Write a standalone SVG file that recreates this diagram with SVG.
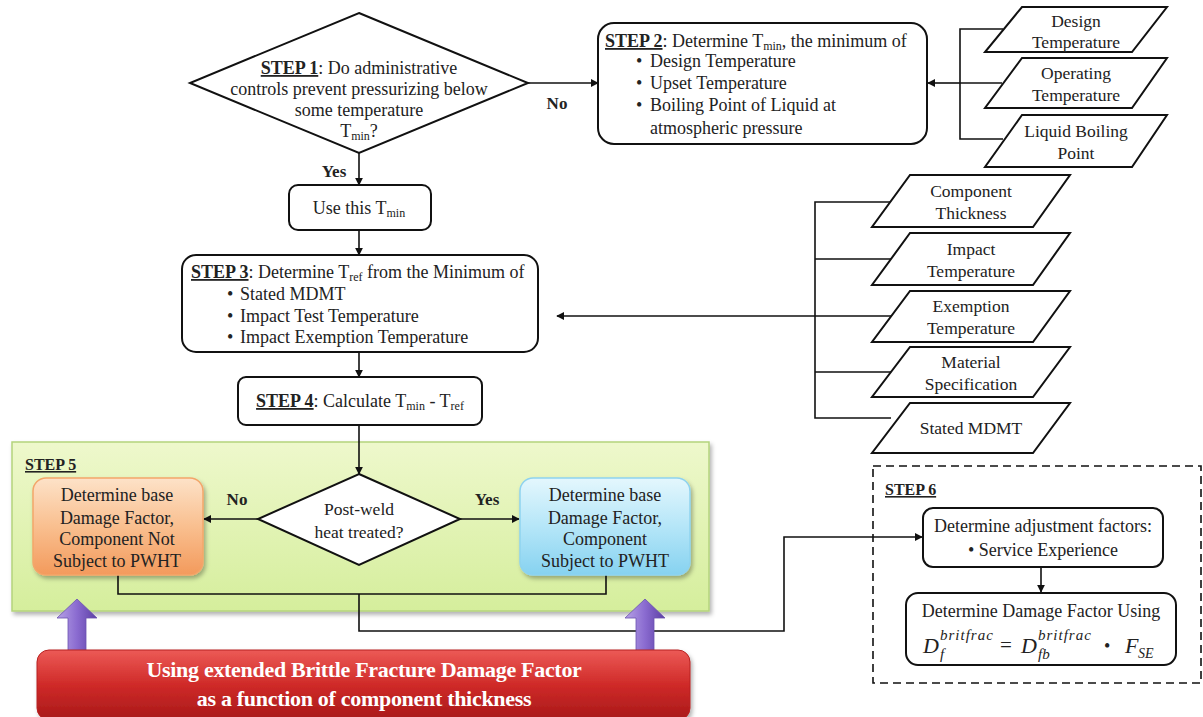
<svg xmlns="http://www.w3.org/2000/svg" width="1203" height="717" viewBox="0 0 1203 717">
<defs>
<style>
.t{font-family:"Liberation Serif","Times New Roman",serif;font-size:18px;fill:#222}
.p{font-size:17.5px}
.c{text-anchor:middle}
.b{font-weight:bold}
.u{text-decoration:underline}
.sub{font-size:12px}
.box{fill:#fff;stroke:#111;stroke-width:2}
.ln{fill:none;stroke:#111;stroke-width:1.6}
.lnA{fill:none;stroke:#111;stroke-width:1.6;marker-end:url(#ah)}
.math{font-family:"Liberation Serif","DejaVu Serif",serif;font-style:italic;fill:#222}
</style>
<marker id="ah" viewBox="0 0 10 10" refX="9" refY="5" markerWidth="8" markerHeight="8" markerUnits="userSpaceOnUse" orient="auto">
<path d="M0,0 L10,5 L0,10 z" fill="#111"/>
</marker>
<linearGradient id="gGreen" x1="0" y1="0" x2="0" y2="1"><stop offset="0" stop-color="#eef8cc"/><stop offset="1" stop-color="#d5ee9c"/></linearGradient>
<linearGradient id="gOrange" x1="0" y1="0" x2="0" y2="1"><stop offset="0" stop-color="#fde2c8"/><stop offset="0.5" stop-color="#f9bf8f"/><stop offset="1" stop-color="#f39a5c"/></linearGradient>
<linearGradient id="gBlue" x1="0" y1="0" x2="0" y2="1"><stop offset="0" stop-color="#e4f7fd"/><stop offset="0.5" stop-color="#b5e6f8"/><stop offset="1" stop-color="#86d2f0"/></linearGradient>
<linearGradient id="gRed" x1="0" y1="0" x2="0" y2="1"><stop offset="0" stop-color="#ec5a56"/><stop offset="0.5" stop-color="#cf2a28"/><stop offset="1" stop-color="#a8191a"/></linearGradient>
<linearGradient id="gPurple" x1="0" y1="0" x2="1" y2="0"><stop offset="0" stop-color="#b7a2e6"/><stop offset="0.5" stop-color="#8a6bd0"/><stop offset="1" stop-color="#5c3fa4"/></linearGradient>
<filter id="sh" x="-5%" y="-5%" width="110%" height="120%"><feDropShadow dx="2" dy="3" stdDeviation="2" flood-color="#000" flood-opacity="0.3"/></filter>
</defs>
<rect width="1203" height="717" fill="#fff"/>

<g id="step5-container">
<rect x="12" y="442" width="697" height="169" fill="url(#gGreen)" stroke="#b4d47c" stroke-width="1.5" filter="url(#sh)"/>
<text x="25" y="470" class="t b u" style="font-size:16px">STEP 5</text>
</g>

<g id="step6-container">
<rect x="873" y="466" width="328" height="217" fill="none" stroke="#111" stroke-width="1.6" stroke-dasharray="8,5"/>
<text x="885" y="495" class="t b u" style="font-size:16px">STEP 6</text>
</g>

<g id="connectors">
<path class="lnA" d="M528,83 H598"/>
<path class="lnA" d="M359,153 V185"/>
<path class="lnA" d="M359,230 V255"/>
<path class="lnA" d="M359,352 V377"/>
<path class="lnA" d="M359,425 V474"/>
<path class="lnA" d="M960,83 H928"/>
<path class="ln" d="M1003,29 H960 V139 H1003"/>
<path class="ln" d="M960,83 H1002"/>
<path class="lnA" d="M815,316 H557"/>
<path class="ln" d="M891,202 H815 V418 H891"/>
<path class="ln" d="M815,259 H891 M815,316 H891 M815,372 H891"/>
<path class="lnA" d="M258,519 H204"/>
<path class="lnA" d="M460,519 H519"/>
<path class="ln" d="M118,575 V594 H606 V575"/>
<path class="lnA" d="M359,594 V631 H784 V537 H922"/>
<path class="lnA" d="M1041,567 V592"/>
<text x="557" y="109" class="t b c" style="font-size:17px">No</text>
<text x="334" y="177" class="t b c" style="font-size:17px">Yes</text>
<text x="237" y="505" class="t b c" style="font-size:17px">No</text>
<text x="487" y="505" class="t b c" style="font-size:17px">Yes</text>
</g>

<g id="step1">
<polygon points="359,13 528,83 359,153 190,83" class="box"/>
<text x="359" y="74" class="t c"><tspan class="b u">STEP 1</tspan>: Do administrative</text>
<text x="359" y="95" class="t c">controls prevent pressurizing  below</text>
<text x="359" y="116" class="t c">some temperature</text>
<text x="359" y="137" class="t c">T<tspan class="sub" dy="3">min</tspan><tspan dy="-3">?</tspan></text>
</g>

<g id="step2">
<rect x="598" y="23" width="329" height="121" rx="16" class="box"/>
<text x="605" y="47" class="t"><tspan class="b u">STEP 2</tspan>: Determine  T<tspan class="sub" dy="3">min</tspan><tspan dy="-3">, the minimum  of</tspan></text>
<text x="636" y="67" class="t">•</text><text x="650" y="67" class="t">Design  Temperature</text>
<text x="636" y="89" class="t">•</text><text x="650" y="89" class="t">Upset Temperature</text>
<text x="636" y="111" class="t">•</text><text x="650" y="111" class="t">Boiling  Point of Liquid at</text>
<text x="650" y="134" class="t">atmospheric pressure</text>
</g>

<g id="in-design">
<polygon points="1022,7 1167,7 1132,52 985,52" class="box"/>
<text x="1076" y="27" class="t p c">Design</text>
<text x="1076" y="48" class="t p c">Temperature</text>
</g>
<g id="in-operating">
<polygon points="1022,58 1167,58 1132,108 985,108" class="box"/>
<text x="1076" y="79" class="t p c">Operating</text>
<text x="1076" y="101" class="t p c">Temperature</text>
</g>
<g id="in-liquid">
<polygon points="1022,115 1167,115 1132,167 985,167" class="box"/>
<text x="1076" y="137" class="t p c">Liquid  Boiling</text>
<text x="1076" y="159" class="t p c">Point</text>
</g>

<g id="use-tmin">
<rect x="289" y="185" width="142" height="45" rx="9" class="box"/>
<text x="359" y="214" class="t c">Use this  T<tspan class="sub" dy="3">min</tspan></text>
</g>

<g id="step3">
<rect x="182" y="255" width="356" height="97" rx="14" class="box"/>
<text x="191" y="278" class="t"><tspan class="b u">STEP 3</tspan>: Determine  T<tspan class="sub" dy="3">ref</tspan><tspan dy="-3"> from the Minimum  of</tspan></text>
<text x="227" y="300" class="t">•</text><text x="240" y="300" class="t">Stated MDMT</text>
<text x="227" y="322" class="t">•</text><text x="240" y="322" class="t">Impact Test Temperature</text>
<text x="227" y="343" class="t">•</text><text x="240" y="343" class="t">Impact Exemption  Temperature</text>
</g>

<g id="step4">
<rect x="238" y="377" width="244" height="48" rx="8" class="box"/>
<text x="360" y="407" class="t c"><tspan class="b u">STEP 4</tspan>: Calculate  T<tspan class="sub" dy="3">min</tspan><tspan dy="-3"> - T</tspan><tspan class="sub" dy="3">ref</tspan></text>
</g>

<g id="in-thickness">
<polygon points="910,175 1070,175 1033,227 872,227" class="box"/>
<text x="971" y="197" class="t p c">Component</text>
<text x="971" y="219" class="t p c">Thickness</text>
</g>
<g id="in-impact">
<polygon points="910,233 1070,233 1033,285 872,285" class="box"/>
<text x="971" y="255" class="t p c">Impact</text>
<text x="971" y="277" class="t p c">Temperature</text>
</g>
<g id="in-exemption">
<polygon points="910,291 1070,291 1033,342 872,342" class="box"/>
<text x="971" y="312" class="t p c">Exemption</text>
<text x="971" y="334" class="t p c">Temperature</text>
</g>
<g id="in-material">
<polygon points="910,347 1070,347 1033,397 872,397" class="box"/>
<text x="971" y="368" class="t p c">Material</text>
<text x="971" y="390" class="t p c">Specification</text>
</g>
<g id="in-mdmt">
<polygon points="910,403 1070,403 1033,453 872,453" class="box"/>
<text x="971" y="434" class="t p c">Stated MDMT</text>
</g>

<g id="pwht-decision">
<polygon points="359,474 460,519 359,565 258,519" class="box" stroke-width="1.8"/>
<text x="359" y="515" class="t c" style="font-size:17.5px">Post-weld</text>
<text x="359" y="538" class="t c" style="font-size:17.5px">heat treated?</text>
</g>

<g id="not-pwht">
<rect x="33" y="478" width="170" height="97" rx="13" fill="url(#gOrange)" stroke="#f3a66a" stroke-width="1.5" filter="url(#sh)"/>
<text x="117" y="501" class="t c">Determine  base</text>
<text x="117" y="524" class="t c">Damage Factor,</text>
<text x="117" y="545" class="t c">Component Not</text>
<text x="117" y="567" class="t c">Subject to PWHT</text>
</g>

<g id="pwht">
<rect x="520" y="478" width="170" height="97" rx="13" fill="url(#gBlue)" stroke="#8fd3ef" stroke-width="1.5" filter="url(#sh)"/>
<text x="605" y="501" class="t c">Determine  base</text>
<text x="605" y="524" class="t c">Damage Factor,</text>
<text x="605" y="545" class="t c">Component</text>
<text x="605" y="567" class="t c">Subject to PWHT</text>
</g>

<g id="adjustment">
<rect x="923" y="508" width="240" height="59" rx="10" class="box"/>
<text x="1043" y="532" class="t c">Determine  adjustment factors:</text>
<text x="1043" y="556" class="t c">• Service Experience</text>
</g>

<g id="damage-factor">
<rect x="906" y="593" width="270" height="72" rx="12" class="box"/>
<text x="1041" y="617" class="t c">Determine  Damage  Factor Using</text>
<text x="923" y="653" class="math" style="font-size:22px">D</text>
<text x="940" y="640" class="math" style="font-size:15px;letter-spacing:1px">britfrac</text>
<text x="940" y="659" class="math" style="font-size:15px">f</text>
<text x="1000" y="652" class="t" style="font-size:21px">=</text>
<text x="1021" y="653" class="math" style="font-size:22px">D</text>
<text x="1038" y="640" class="math" style="font-size:15px;letter-spacing:1px">britfrac</text>
<text x="1038" y="659" class="math" style="font-size:15px">fb</text>
<text x="1104" y="652" class="t" style="font-size:18px">•</text>
<text x="1125" y="653" class="math" style="font-size:22px">F</text>
<text x="1138" y="658" class="math" style="font-size:14px">SE</text>
</g>

<g id="purple-arrows">
<path d="M77,599 L97,618 L86,618 L86,652 L68,652 L68,618 L57,618 Z" fill="url(#gPurple)" stroke="#6b52b0" stroke-width="0.8"/>
<path d="M645,599 L665,618 L654,618 L654,652 L636,652 L636,618 L625,618 Z" fill="url(#gPurple)" stroke="#6b52b0" stroke-width="0.8"/>
</g>

<g id="banner">
<rect x="37" y="650" width="653" height="70" rx="12" fill="url(#gRed)" stroke="#b82020" stroke-width="1" filter="url(#sh)"/>
<text x="364" y="677" class="t b c" style="font-size:22px;fill:#fff;letter-spacing:-0.3px">Using extended Brittle Fracture Damage Factor</text>
<text x="364" y="706" class="t b c" style="font-size:22px;fill:#fff;letter-spacing:-0.3px">as a function of component thickness</text>
</g>
</svg>
